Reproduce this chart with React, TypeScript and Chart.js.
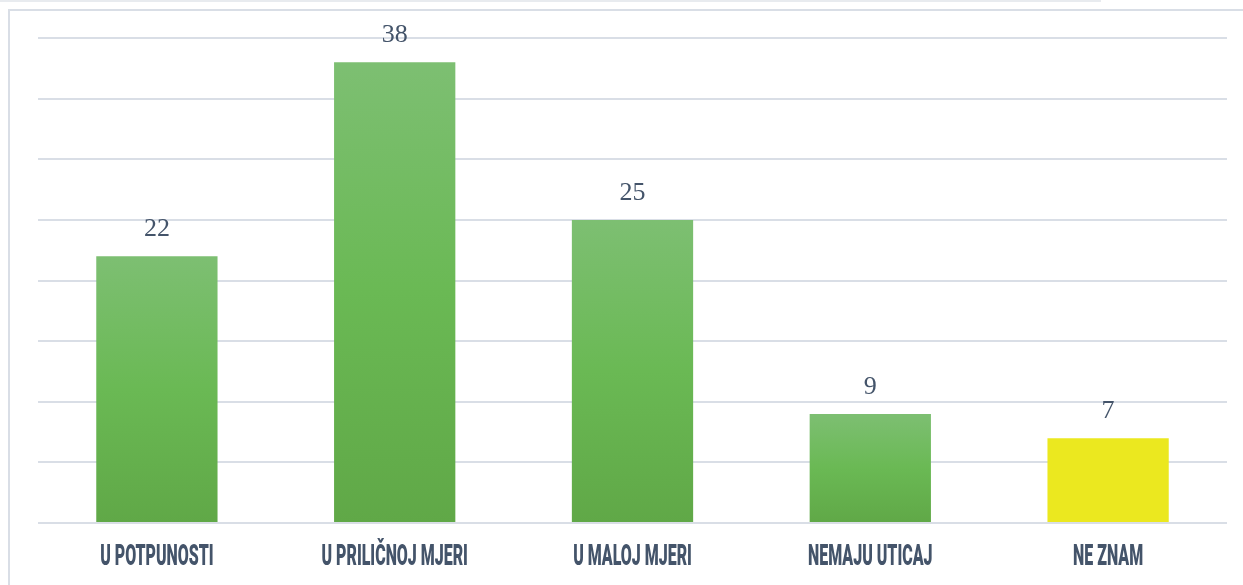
import React, { useEffect, useRef } from "react";
import { Chart, registerables } from "chart.js";

Chart.register(...registerables);

const categories = ["U POTPUNOSTI", "U PRILIČNOJ MJERI", "U MALOJ MJERI", "NEMAJU UTICAJ", "NE ZNAM"];
const values = [22, 38, 25, 9, 7];
const yMax = 40;
const yStep = 5;

const labelColor = "#44546a";
const gridColor = "#d9dee6";

const valueLabelPlugin = {
  id: "valueLabels",
  afterDatasetsDraw(chart: any) {
    const ctx = chart.ctx;
    const meta = chart.getDatasetMeta(0);
    ctx.save();
    ctx.fillStyle = labelColor;
    ctx.font = '26px "Liberation Serif", serif';
    ctx.textAlign = "center";
    ctx.textBaseline = "alphabetic";
    meta.data.forEach((bar: any, i: number) => {
      ctx.fillText(String(values[i]), bar.x, bar.y - 20);
    });
    ctx.restore();
  },
};

const categoryLabelPlugin = {
  id: "categoryLabels",
  afterDraw(chart: any) {
    const ctx = chart.ctx;
    const xScale = chart.scales.x;
    const y = chart.chartArea.bottom + 42;
    ctx.save();
    ctx.fillStyle = labelColor;
    ctx.font = '900 29px Roboto, sans-serif';
    ctx.textAlign = "center";
    ctx.textBaseline = "alphabetic";
    const sx = 0.55;
    categories.forEach((c, i) => {
      const x = xScale.getPixelForValue(i);
      ctx.save();
      ctx.translate(x, y);
      ctx.scale(sx, 1);
      ctx.fillText(c, 0, 0);
      ctx.restore();
    });
    ctx.restore();
  },
};

export default function App() {
  const ref = useRef<HTMLCanvasElement>(null);
  useEffect(() => {
    const canvas = ref.current!;
    const ctx = canvas.getContext("2d")!;
    const chart = new Chart(canvas, {
      type: "bar",
      data: {
        labels: categories,
        datasets: [
          {
            data: values,
            backgroundColor: (c: any) => {
              if (c.dataIndex === values.length - 1) return "#ebe81f";
              const yScale = c.chart.scales?.y;
              if (!yScale || !c.chart.chartArea) return "#6ab954";
              const top = yScale.getPixelForValue(values[c.dataIndex]);
              const bottom = yScale.getPixelForValue(0);
              if (!isFinite(top) || !isFinite(bottom) || top === bottom) return "#6ab954";
              const g = ctx.createLinearGradient(0, top, 0, bottom);
              g.addColorStop(0, "#7dbf72");
              g.addColorStop(0.5, "#6ab954");
              g.addColorStop(1, "#60a847");
              return g;
            },
            borderWidth: 0,
            categoryPercentage: 1,
            barPercentage: 0.51,
          },
        ],
      },
      options: {
        animation: false,
        responsive: false,
        maintainAspectRatio: false,
        layout: { padding: { left: 28, right: 16, top: 27, bottom: 62 } },
        plugins: { legend: { display: false }, tooltip: { enabled: false } },
        scales: {
          x: { display: false },
          y: {
            min: 0,
            max: yMax,
            ticks: { display: false, stepSize: yStep },
            border: { display: false },
            grid: { color: gridColor, lineWidth: 2, drawTicks: false },
          },
        },
      },
      plugins: [valueLabelPlugin, categoryLabelPlugin],
    });
    return () => chart.destroy();
  }, []);

  return (
    <>
      <div
        style={{
          position: "absolute",
          left: 0,
          top: 0,
          width: 1101,
          height: 2,
          background: "#e8ebef",
        }}
      />
      <div
        style={{
          position: "absolute",
          left: 8,
          top: 9,
          width: 1235,
          height: 576,
          borderTop: `2px solid ${gridColor}`,
          borderLeft: `2px solid ${gridColor}`,
          boxSizing: "border-box",
          overflow: "hidden",
        }}
      >
        <canvas ref={ref} width={1233} height={574} style={{ display: "block" }} />
      </div>
    </>
  );
}
